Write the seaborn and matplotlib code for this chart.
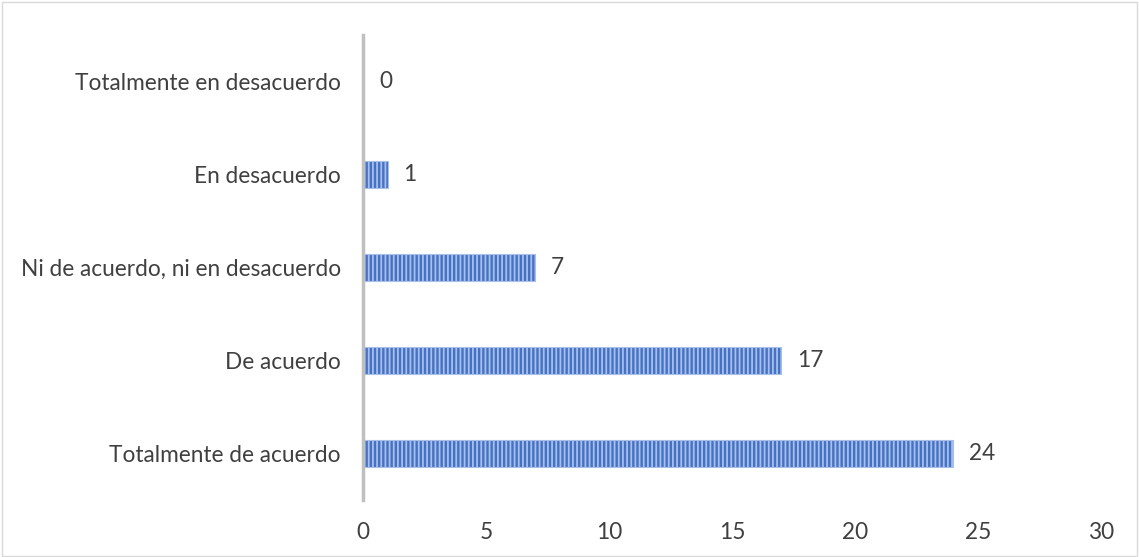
import matplotlib
matplotlib.use("Agg")
import matplotlib.pyplot as plt
import seaborn as sns
import pandas as pd
from matplotlib.patches import Rectangle

categories = ["Totalmente en desacuerdo", "En desacuerdo", "Ni de acuerdo, ni en desacuerdo",
              "De acuerdo", "Totalmente de acuerdo"]
values = [0, 1, 7, 17, 24]
xticks = [0, 5, 10, 15, 20, 25, 30]

sns.set_theme(style="white")
plt.rcParams['font.family'] = ['Lato', 'DejaVu Sans']
plt.rcParams['hatch.linewidth'] = 1.3
plt.rcParams['hatch.color'] = '#A9BFEA'

df = pd.DataFrame({"cat": categories, "val": values})

fig = plt.figure(figsize=(11.39, 5.57), dpi=100)
ax = fig.add_axes([363/1139, 1-500/557, (1101-363)/1139, (500-35)/557])

sns.barplot(data=df, y="cat", x="val", order=categories, orient="h", ax=ax,
            color="#4472C4", width=0.3, saturation=1)
for p in ax.patches:
    p.set_hatch("||||")
    p.set_edgecolor("#A9BFEA")
    p.set_linewidth(0.8)

for i, v in enumerate(values):
    ax.text(v + 0.65, i, str(v), va="center", ha="left", fontsize=16.3, color="#404040")

ax.set_xlim(0, 30)
ax.set_xticks(xticks)
ax.set_xticklabels([str(t) for t in xticks])
ax.set_ylim(4.5, -0.5)
ax.set_xlabel("")
ax.set_ylabel("")
for s in ["top", "right", "bottom"]:
    ax.spines[s].set_visible(False)
ax.spines["left"].set_color("#BFBFBF")
ax.spines["left"].set_linewidth(2.5)
ax.tick_params(axis="both", length=0, labelsize=16.3, labelcolor="#404040")
ax.tick_params(axis="y", pad=16)
ax.tick_params(axis="x", pad=16)

fig.patches.append(Rectangle((0.002, 0.002), 0.996, 0.994, transform=fig.transFigure,
                             fill=False, edgecolor="#D9D9D9", linewidth=1))
fig.savefig("out.png", dpi=100)
